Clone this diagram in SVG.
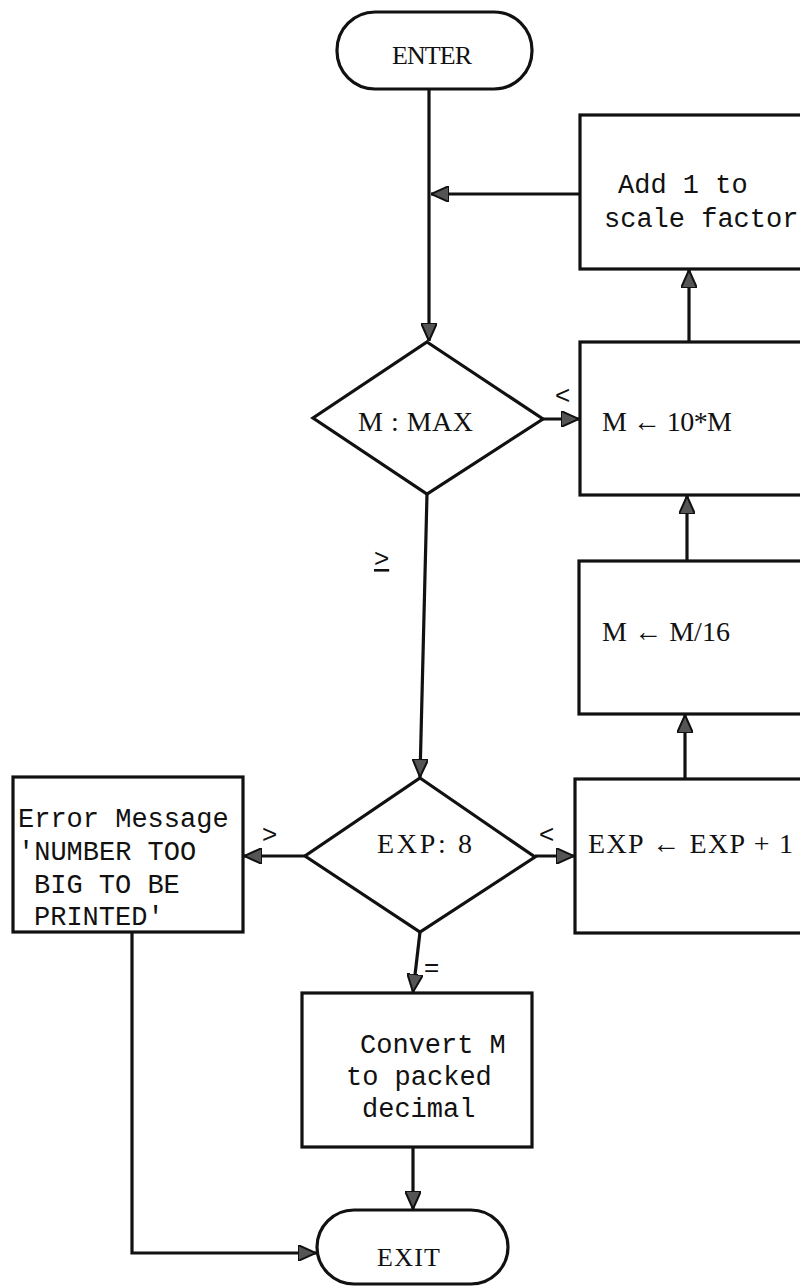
<svg xmlns="http://www.w3.org/2000/svg" width="800" height="1288" viewBox="0 0 800 1288">
<style>
.s{fill:#fff;stroke:#111;stroke-width:3.2}
.c{fill:none;stroke:#111;stroke-width:3.2;marker-end:url(#ah)}
.tw{font-family:"Liberation Mono","DejaVu Sans Mono",monospace;font-size:27px;fill:#111}
.sf{font-family:"Liberation Serif","DejaVu Serif",serif;font-size:28px;fill:#111}
.term{font-size:26px}
.lb{font-family:"Liberation Sans","DejaVu Sans",sans-serif;font-size:26px;fill:#111}
</style>
<defs>
<marker id="ah" viewBox="0 0 18 16" refX="18" refY="8" markerWidth="18" markerHeight="16" markerUnits="userSpaceOnUse" orient="auto">
<path d="M0,0 L18,8 L0,16 Z" fill="#555" stroke="#111" stroke-width="2"/>
</marker>
</defs>
<rect width="800" height="1288" fill="#fff"/>
<g id="connectors">
<path class="c" d="M429 89 V341"/>
<path class="c" d="M580 194 H431"/>
<path class="c" d="M543 419 H579"/>
<path class="c" d="M689 342 V270"/>
<path class="c" d="M687 561 V496"/>
<path class="c" d="M685 779 V715"/>
<path class="c" d="M427 494 L420 777"/>
<path class="c" d="M535 856 H574"/>
<path class="c" d="M305 856 H244"/>
<path class="c" d="M420 932 L413 992"/>
<path class="c" d="M413 1147 V1209"/>
<path class="c" d="M132 932 V1253 H316"/>
</g>
<g id="labels">
<text class="lb" x="555" y="404">&lt;</text>
<text class="lb" x="374" y="567" text-decoration="underline">&gt;</text>
<text class="lb" x="262" y="843">&gt;</text>
<text class="lb" x="539" y="843">&lt;</text>
<text class="lb" x="424" y="976">=</text>
</g>
<g id="enter">
<rect class="s" x="337" y="12" width="195" height="77" rx="38"/>
<text class="sf term" x="392" y="64" textLength="80">ENTER</text>
</g>
<g id="add1">
<rect class="s" x="580" y="115" width="240" height="154"/>
<text class="tw" x="618" y="193">Add 1 to</text>
<text class="tw" x="604" y="227">scale factor</text>
</g>
<g id="cmpmax">
<polygon class="s" points="427,342 543,419 427,494 313,418"/>
<text class="sf" x="358" y="431" textLength="115">M : MAX</text>
</g>
<g id="mul10">
<rect class="s" x="580" y="342" width="240" height="153"/>
<text class="sf" x="602" y="431" textLength="130">M ← 10*M</text>
</g>
<g id="div16">
<rect class="s" x="579" y="561" width="240" height="153"/>
<text class="sf" x="602" y="641" textLength="128">M ← M/16</text>
</g>
<g id="cmpexp">
<polygon class="s" points="420,778 535,857 420,932 305,856"/>
<text class="sf" x="377" y="853" textLength="95">EXP: 8</text>
</g>
<g id="incexp">
<rect class="s" x="575" y="779" width="245" height="154"/>
<text class="sf" x="588" y="853" textLength="205">EXP ← EXP + 1</text>
</g>
<g id="error">
<rect class="s" x="13" y="777" width="230" height="155"/>
<text class="tw" x="18" y="827">Error Message</text>
<text class="tw" x="18" y="860">'NUMBER TOO</text>
<text class="tw" x="34" y="893">BIG TO BE</text>
<text class="tw" x="34" y="925">PRINTED'</text>
</g>
<g id="convert">
<rect class="s" x="302" y="993" width="230" height="154"/>
<text class="tw" x="360" y="1053">Convert M</text>
<text class="tw" x="346" y="1085">to packed</text>
<text class="tw" x="362" y="1117">decimal</text>
</g>
<g id="exit">
<rect class="s" x="317" y="1210" width="191" height="74" rx="37"/>
<text class="sf term" x="377" y="1266" textLength="63">EXIT</text>
</g>
</svg>
